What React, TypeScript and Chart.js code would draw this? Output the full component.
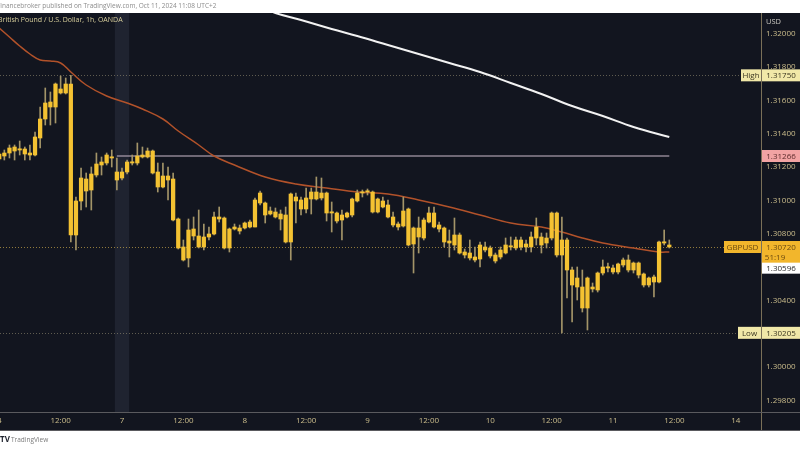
import React, { useEffect, useRef } from 'react';
import { Chart, registerables } from 'chart.js';

Chart.register(...registerables);

const FONT = "'Open Sans', 'DejaVu Sans', sans-serif";
const DARK = '#12151f';
const TXT = '#cbbd8c';

// Hourly candles, GBPUSD 1h, from Fri Oct 4 00:00 (index 0) to Fri Oct 11 11:00 (UTC+2)
const opens = [
  1.31248, 1.31266, 1.31284, 1.31320, 1.31302, 1.31308, 1.31284, 1.31272, 1.31374, 1.31488,
  1.31590, 1.31560, 1.31668, 1.31644, 1.31698, 1.30792, 1.30996, 1.31128, 1.31062, 1.31152,
  1.31212, 1.31224, 1.31260, 1.31170, 1.31134, 1.31170, 1.31230, 1.31224, 1.31260, 1.31260,
  1.31296, 1.31170, 1.31080, 1.31146, 1.31128, 1.30888, 1.30720, 1.30654, 1.30828, 1.30786,
  1.30720, 1.30780, 1.30798, 1.30900, 1.30894, 1.30714, 1.30828, 1.30834, 1.30834, 1.30840,
  1.30840, 1.30984, 1.30984, 1.30936, 1.30930, 1.30918, 1.30912, 1.30750, 1.31020, 1.31002,
  1.30948, 1.31008, 1.31050, 1.31014, 1.31044, 1.30924, 1.30924, 1.30882, 1.30900, 1.30912,
  1.30996, 1.31044, 1.31050, 1.31050, 1.30930, 1.30996, 1.30972, 1.30900, 1.30858, 1.30846,
  1.30948, 1.30738, 1.30834, 1.30774, 1.30870, 1.30924, 1.30852, 1.30834, 1.30756, 1.30732,
  1.30792, 1.30690, 1.30654, 1.30660, 1.30648, 1.30720, 1.30714, 1.30672, 1.30660, 1.30684,
  1.30726, 1.30714, 1.30762, 1.30720, 1.30720, 1.30774, 1.30780, 1.30744, 1.30774, 1.30924,
  1.30672, 1.30762, 1.30582, 1.30480, 1.30480, 1.30354, 1.30480, 1.30462, 1.30564, 1.30600,
  1.30594, 1.30570, 1.30612, 1.30642, 1.30582, 1.30624, 1.30558, 1.30492, 1.30540, 1.30510,
  1.30750, 1.30732,
];
const highs = [
  1.31290, 1.31302, 1.31332, 1.31332, 1.31356, 1.31320, 1.31332, 1.31410, 1.31560, 1.31674,
  1.31650, 1.31704, 1.31746, 1.31734, 1.31750, 1.31020, 1.31194, 1.31164, 1.31200, 1.31284,
  1.31260, 1.31284, 1.31302, 1.31254, 1.31194, 1.31242, 1.31272, 1.31344, 1.31320, 1.31314,
  1.31302, 1.31224, 1.31224, 1.31200, 1.31164, 1.30894, 1.30762, 1.30888, 1.30900, 1.30942,
  1.30858, 1.30840, 1.30930, 1.30960, 1.30900, 1.30834, 1.30858, 1.30852, 1.30870, 1.30882,
  1.31014, 1.31056, 1.30990, 1.30960, 1.30954, 1.30942, 1.30960, 1.31044, 1.31044, 1.31020,
  1.31074, 1.31074, 1.31140, 1.31134, 1.31050, 1.30990, 1.30930, 1.30942, 1.30930, 1.31014,
  1.31062, 1.31062, 1.31068, 1.31056, 1.31014, 1.31020, 1.31002, 1.30930, 1.30870, 1.31020,
  1.30954, 1.30840, 1.30900, 1.30894, 1.30960, 1.30960, 1.30870, 1.30840, 1.30822, 1.30894,
  1.30804, 1.30708, 1.30762, 1.30720, 1.30750, 1.30750, 1.30726, 1.30684, 1.30720, 1.30774,
  1.30780, 1.30780, 1.30780, 1.30762, 1.30810, 1.30894, 1.30804, 1.30804, 1.30930, 1.30930,
  1.30900, 1.30774, 1.30600, 1.30600, 1.30582, 1.30540, 1.30504, 1.30570, 1.30642, 1.30624,
  1.30612, 1.30624, 1.30654, 1.30672, 1.30630, 1.30630, 1.30564, 1.30540, 1.30552, 1.30756,
  1.30822, 1.30762,
];
const lows = [
  1.31236, 1.31242, 1.31254, 1.31242, 1.31272, 1.31242, 1.31242, 1.31266, 1.31314, 1.31452,
  1.31452, 1.31464, 1.31638, 1.31638, 1.30750, 1.30702, 1.30942, 1.30960, 1.30942, 1.31140,
  1.31152, 1.31212, 1.31200, 1.31062, 1.31122, 1.31158, 1.31212, 1.31212, 1.31254, 1.31254,
  1.31158, 1.31050, 1.31074, 1.31002, 1.30876, 1.30708, 1.30636, 1.30600, 1.30762, 1.30714,
  1.30702, 1.30762, 1.30792, 1.30870, 1.30708, 1.30690, 1.30822, 1.30798, 1.30828, 1.30834,
  1.30840, 1.30972, 1.30864, 1.30912, 1.30894, 1.30822, 1.30744, 1.30642, 1.30864, 1.30912,
  1.30924, 1.30918, 1.31002, 1.31002, 1.30876, 1.30810, 1.30864, 1.30762, 1.30894, 1.30900,
  1.30990, 1.31020, 1.31032, 1.30924, 1.30924, 1.30954, 1.30894, 1.30840, 1.30822, 1.30840,
  1.30726, 1.30564, 1.30684, 1.30762, 1.30864, 1.30834, 1.30810, 1.30720, 1.30660, 1.30702,
  1.30678, 1.30654, 1.30642, 1.30630, 1.30600, 1.30690, 1.30654, 1.30624, 1.30648, 1.30678,
  1.30702, 1.30702, 1.30702, 1.30690, 1.30690, 1.30732, 1.30684, 1.30714, 1.30762, 1.30660,
  1.30205, 1.30414, 1.30270, 1.30402, 1.30330, 1.30222, 1.30450, 1.30450, 1.30552, 1.30570,
  1.30558, 1.30558, 1.30600, 1.30570, 1.30564, 1.30534, 1.30480, 1.30480, 1.30420, 1.30504,
  1.30732, 1.30714,
];
const closes = [
  1.31278, 1.31284, 1.31314, 1.31296, 1.31308, 1.31278, 1.31272, 1.31380, 1.31488, 1.31584,
  1.31560, 1.31698, 1.31644, 1.31698, 1.30792, 1.30996, 1.31134, 1.31056, 1.31158, 1.31218,
  1.31230, 1.31272, 1.31254, 1.31122, 1.31170, 1.31230, 1.31224, 1.31266, 1.31272, 1.31296,
  1.31164, 1.31080, 1.31146, 1.31122, 1.30882, 1.30714, 1.30642, 1.30822, 1.30786, 1.30720,
  1.30780, 1.30798, 1.30900, 1.30888, 1.30714, 1.30828, 1.30840, 1.30816, 1.30864, 1.30870,
  1.31002, 1.31044, 1.30912, 1.30918, 1.30900, 1.30888, 1.30750, 1.31038, 1.30996, 1.30948,
  1.31014, 1.31050, 1.31008, 1.31044, 1.30924, 1.30930, 1.30876, 1.30912, 1.30924, 1.31008,
  1.31044, 1.31050, 1.31056, 1.30930, 1.31008, 1.30960, 1.30900, 1.30852, 1.30840, 1.30936,
  1.30732, 1.30834, 1.30780, 1.30882, 1.30924, 1.30840, 1.30828, 1.30750, 1.30744, 1.30792,
  1.30684, 1.30672, 1.30684, 1.30642, 1.30732, 1.30702, 1.30666, 1.30636, 1.30702, 1.30732,
  1.30720, 1.30762, 1.30720, 1.30738, 1.30780, 1.30840, 1.30732, 1.30774, 1.30924, 1.30672,
  1.30762, 1.30582, 1.30492, 1.30534, 1.30354, 1.30534, 1.30468, 1.30564, 1.30600, 1.30594,
  1.30570, 1.30618, 1.30642, 1.30582, 1.30624, 1.30552, 1.30492, 1.30534, 1.30510, 1.30750,
  1.30744, 1.30720,
];

// Moving averages, read at selected bars
const maFastAt = [0, 2, 4, 6, 8, 10, 12, 14, 17, 21, 25, 28, 32, 35, 39, 42, 46, 52, 58, 64, 70, 76, 82, 88, 94, 100, 106, 110, 114, 118, 124, 129, 131];
const maFast = [
  1.32034, 1.31980, 1.31926, 1.31878, 1.31842, 1.31836, 1.31824, 1.31770, 1.31692, 1.31626,
  1.31584, 1.31548, 1.31488, 1.31416, 1.31332, 1.31266, 1.31212, 1.31140, 1.31098, 1.31074,
  1.31050, 1.31038, 1.31002, 1.30960, 1.30912, 1.30864, 1.30840, 1.30810, 1.30774, 1.30744,
  1.30714, 1.30690, 1.30690,
];
const maSlowAt = [52, 54, 59, 65, 70, 76, 82, 88, 94, 100, 106, 112, 118, 124, 131];
const maSlow = [
  1.32154, 1.32124, 1.32082, 1.32028, 1.31986, 1.31932, 1.31878, 1.31824, 1.31770, 1.31704,
  1.31638, 1.31566, 1.31506, 1.31440, 1.31380,
];

const xTickAt = [0, 12, 24, 36, 48, 60, 72, 84, 96, 108, 120, 132, 144];
const xTickLabels = ['4', '12:00', '7', '12:00', '8', '12:00', '9', '12:00', '10', '12:00', '11', '12:00', '14'];
const yTicks = [1.298, 1.3, 1.302, 1.304, 1.306, 1.308, 1.31, 1.312, 1.314, 1.316, 1.318, 1.32];

const xMin = 0.15;
const xMax = 148.93;
const yMin = 1.2973;
const yMax = 1.32124;

const highLevel = 1.3175;
const lowLevel = 1.30205;
const lastPrice = 1.3072;
const prevPrice = 1.30596;
const rayLevel = 1.31266;
const rayFrom = 23;
const rayTo = 131;
const countdown = '51:19';
const sessionBand = [22.6, 25.4];

const headerText = 'Financebroker published on TradingView.com, Oct 11, 2024 11:08 UTC+2';
const titleText = 'British Pound / U.S. Dollar, 1h, OANDA';

const HEADER_H = 13;
const AXIS_W = 39;
const XAXIS_H = 19;
const FOOTER_H = 19;

function tag(ctx: CanvasRenderingContext2D, x0: number, x1: number, yc: number, h: number, bg: string, fg: string, text: string, font: string) {
  ctx.fillStyle = bg;
  ctx.fillRect(x0, yc - h / 2, x1 - x0, h);
  ctx.fillStyle = fg;
  ctx.font = font;
  ctx.textAlign = 'center';
  ctx.textBaseline = 'middle';
  ctx.fillText(text, (x0 + x1) / 2, yc + 0.5);
}

const tvPlugin = {
  id: 'tvDecor',
  beforeDraw(chart: any) {
    const { ctx, chartArea: a, scales } = chart;
    const x = scales.x;
    const y = scales.y;
    ctx.save();
    ctx.fillStyle = '#ffffff';
    ctx.fillRect(0, 0, chart.width, chart.height);
    ctx.fillStyle = DARK;
    ctx.fillRect(0, a.top, chart.width, a.bottom + XAXIS_H - a.top);
    // session break band
    const b0 = x.getPixelForValue(sessionBand[0]);
    const b1 = x.getPixelForValue(sessionBand[1]);
    ctx.fillStyle = 'rgba(120,130,160,0.13)';
    ctx.fillRect(b0, a.top, b1 - b0, a.bottom - a.top);
    // dotted level lines
    ctx.setLineDash([1, 2]);
    ctx.lineWidth = 1;
    const dl = (v: number, c: string) => {
      const py = Math.round(y.getPixelForValue(v)) + 0.5;
      ctx.strokeStyle = c;
      ctx.beginPath();
      ctx.moveTo(a.left, py);
      ctx.lineTo(a.right, py);
      ctx.stroke();
    };
    dl(highLevel, 'rgba(190,180,140,0.45)');
    dl(lowLevel, 'rgba(190,180,140,0.45)');
    dl(lastPrice, 'rgba(230,190,80,0.6)');
    ctx.setLineDash([]);
    ctx.restore();
  },
  afterDraw(chart: any) {
    const { ctx, chartArea: a, scales } = chart;
    const y = scales.y;
    const R = a.right;
    const W = chart.width;
    ctx.save();
    // separators
    ctx.strokeStyle = '#7a7058';
    ctx.lineWidth = 1;
    ctx.beginPath();
    ctx.moveTo(R + 0.5, a.top);
    ctx.lineTo(R + 0.5, a.bottom + XAXIS_H);
    ctx.stroke();
    ctx.strokeStyle = '#5a5a5e';
    ctx.beginPath();
    ctx.moveTo(0, a.bottom + 0.5);
    ctx.lineTo(W, a.bottom + 0.5);
    ctx.stroke();
    ctx.beginPath();
    ctx.moveTo(0, a.bottom + XAXIS_H - 0.5);
    ctx.lineTo(W, a.bottom + XAXIS_H - 0.5);
    ctx.stroke();

    const f = `8px ${FONT}`;
    // High
    const yh = y.getPixelForValue(highLevel);
    tag(ctx, R - 20, R, yh, 12, '#f1e8a8', '#3b3620', 'High', f);
    tag(ctx, R + 1, W, yh, 12, '#f1e8a8', '#3b3620', highLevel.toFixed(5), f);
    // ray level
    const yr = y.getPixelForValue(rayLevel);
    tag(ctx, R + 1, W, yr, 12, '#f2a3a3', '#5b2b2b', rayLevel.toFixed(5), f);
    // last price
    const yl = y.getPixelForValue(lastPrice);
    tag(ctx, R - 37, R, yl, 12, '#f2b62c', '#6b4a10', 'GBPUSD', f);
    ctx.fillStyle = '#f2b62c';
    ctx.fillRect(R + 1, yl - 6, W - R - 1, 22);
    ctx.fillStyle = '#6b4a10';
    ctx.textAlign = 'center';
    ctx.textBaseline = 'middle';
    ctx.font = f;
    ctx.fillText(lastPrice.toFixed(5), (R + 1 + W) / 2, yl + 0.5);
    ctx.fillText(countdown, (R + 1 + W) / 2 - 6, yl + 10.5);
    // previous price
    const yp = y.getPixelForValue(prevPrice);
    tag(ctx, R + 1, W, yp + 0.5, 11, '#ffffff', '#2a2a2a', prevPrice.toFixed(5), f);
    // Low
    const ylo = y.getPixelForValue(lowLevel);
    tag(ctx, R - 23, R, ylo, 12, '#f1e8a8', '#3b3620', 'Low', f);
    tag(ctx, R + 1, W, ylo, 12, '#f1e8a8', '#3b3620', lowLevel.toFixed(5), f);

    // USD
    ctx.fillStyle = '#c9c7c0';
    ctx.font = `7.5px ${FONT}`;
    ctx.textAlign = 'left';
    ctx.textBaseline = 'middle';
    ctx.fillText('USD', R + 5, a.top + 9);

    // title in chart
    ctx.fillStyle = '#d8cf9c';
    ctx.font = `7px ${FONT}`;
    ctx.textAlign = 'left';
    ctx.fillText(titleText, -2, a.top + 7);

    // header
    ctx.fillStyle = '#8c8c8c';
    ctx.font = `6.5px ${FONT}`;
    ctx.textBaseline = 'middle';
    ctx.fillText(headerText, -3, 6.5);

    // footer logo
    const fy = a.bottom + XAXIS_H + 9;
    ctx.fillStyle = '#1e222d';
    ctx.font = `bold 8px ${FONT}`;
    ctx.fillText('TV', 0, fy);
    ctx.fillStyle = '#7a7a7a';
    ctx.font = `6.5px ${FONT}`;
    ctx.fillText('TradingView', 11, fy);
    ctx.restore();
  },
};

export default function App() {
  const ref = useRef<HTMLCanvasElement>(null);
  useEffect(() => {
    document.body.style.margin = '0';
    const canvas = ref.current;
    if (!canvas) return;
    const idx = opens.map((_, i) => i);
    const bodies = idx.map((i) => ({ x: i, y: [Math.min(opens[i], closes[i]), Math.max(opens[i], closes[i])] }));
    const wicks = idx.map((i) => ({ x: i, y: [lows[i], highs[i]] }));
    const fast = maFastAt.map((i, k) => ({ x: i, y: maFast[k] }));
    const slow = maSlowAt.map((i, k) => ({ x: i, y: maSlow[k] }));
    const ray = [
      { x: rayFrom, y: rayLevel },
      { x: rayTo, y: rayLevel },
    ];

    const chart = new Chart(canvas, {
      type: 'bar',
      data: {
        datasets: [
          {
            type: 'bar',
            label: 'body',
            data: bodies as any,
            backgroundColor: '#f4c232',
            borderWidth: 0,
            barThickness: 3.6,
            minBarLength: 1.2,
            grouped: false,
            order: 1,
          } as any,
          {
            type: 'bar',
            label: 'wick',
            data: wicks as any,
            backgroundColor: '#a39468',
            borderWidth: 0,
            barThickness: 1,
            grouped: false,
            order: 2,
          } as any,
          {
            type: 'line',
            label: 'ray',
            data: ray,
            borderColor: 'rgba(185,170,185,0.75)',
            borderWidth: 1.4,
            pointRadius: 0,
            order: 5,
          },
          {
            type: 'line',
            label: 'MA fast',
            data: fast,
            borderColor: '#b2522a',
            borderWidth: 1.5,
            pointRadius: 0,
            tension: 0.4,
            order: 4,
          },
          {
            type: 'line',
            label: 'MA slow',
            data: slow,
            borderColor: '#f2f2f2',
            borderWidth: 2,
            pointRadius: 0,
            tension: 0.4,
            order: 3,
          },
        ],
      },
      options: {
        responsive: false,
        animation: false,
        events: [],
        layout: { padding: { top: HEADER_H, bottom: FOOTER_H, left: 0, right: 0 } },
        plugins: { legend: { display: false }, tooltip: { enabled: false } },
        scales: {
          x: {
            type: 'linear',
            min: xMin,
            max: xMax,
            offset: false,
            grid: { display: false, drawTicks: false },
            border: { display: false },
            afterBuildTicks: (s: any) => {
              s.ticks = xTickAt.map((v) => ({ value: v }));
            },
            afterFit: (s: any) => {
              s.height = XAXIS_H;
              s.paddingLeft = 0;
              s.paddingRight = 0;
            },
            ticks: {
              autoSkip: false,
              maxRotation: 0,
              padding: 4,
              color: TXT,
              font: { family: FONT, size: 8 },
              callback: (v: any) => {
                const k = xTickAt.indexOf(Number(v));
                return k >= 0 ? xTickLabels[k] : '';
              },
            },
          },
          y: {
            type: 'linear',
            position: 'right',
            min: yMin,
            max: yMax,
            grid: { display: false, drawTicks: false },
            border: { display: false },
            afterBuildTicks: (s: any) => {
              s.ticks = yTicks.map((v) => ({ value: v }));
            },
            afterFit: (s: any) => {
              s.width = AXIS_W;
              s.paddingTop = 0;
              s.paddingBottom = 0;
            },
            ticks: {
              autoSkip: false,
              padding: 5,
              color: TXT,
              font: { family: FONT, size: 8 },
              callback: (v: any) => Number(v).toFixed(5),
            },
          },
        },
      },
      plugins: [tvPlugin],
    });
    return () => chart.destroy();
  }, []);
  return (
    <div style={{ position: 'absolute', left: 0, top: 0, width: 800, height: 450 }}>
      <canvas ref={ref} width={800} height={450} style={{ display: 'block' }} />
    </div>
  );
}
